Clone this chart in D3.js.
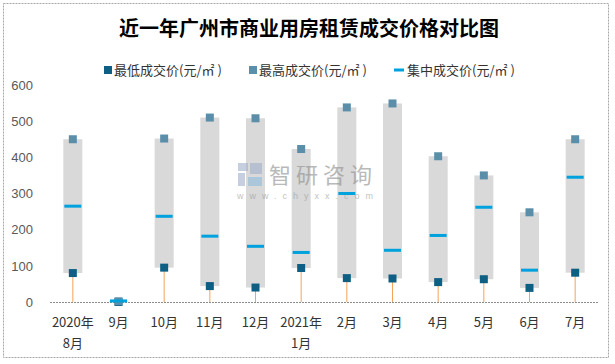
<!DOCTYPE html>
<html><head><meta charset="utf-8">
<script src="https://cdn.jsdelivr.net/npm/d3@7/dist/d3.min.js"></script>
<style>
html,body{margin:0;padding:0;background:#fff;}
svg{display:block;}
text{font-family:"Noto Sans CJK SC","Noto Sans",sans-serif;}
</style></head>
<body><svg id="c" width="615" height="364"></svg>
<script>
const categories = ["2020年8月","9月","10月","11月","12月","2021年1月","2月","3月","4月","5月","6月","7月"];
const tickLabels = [["2020年","8月"],["9月"],["10月"],["11月"],["12月"],["2021年","1月"],["2月"],["3月"],["4月"],["5月"],["6月"],["7月"]];
const minValues = [80, 0, 95, 44, 40, 94, 66, 65, 55, 63, 39, 81];
const maxValues = [450, 2, 452, 510, 508, 423, 538, 549, 403, 350, 248, 450];
const midValues = [265, 3, 237, 182, 154, 137, 300, 143, 184, 262, 88, 345];
const yTicks = [0, 100, 200, 300, 400, 500, 600];
const seriesNames = ["最低成交价(元/㎡ )", "最高成交价(元/㎡ )", "集中成交价(元/㎡ )"];

const svg = d3.select("#c");

// frame
svg.append("rect").attr("x",3.5).attr("y",3.5).attr("width",605).attr("height",354)
  .attr("fill","#fff").attr("stroke","#a6a6a6").attr("stroke-dasharray","2,1");

// title
svg.append("text").attr("x",309).attr("y",36).attr("text-anchor","middle")
  .attr("font-size",20).attr("font-weight","bold").attr("fill","#000")
  .text("近一年广州市商业用房租赁成交价格对比图");

const x = d3.scaleBand().domain(categories).range([50, 598]).padding(0);
const y = d3.scaleLinear().domain([0, 600]).range([302, 85]);
const cx = c => x(c) + x.bandwidth()/2;

// y axis labels
const yAxis = svg.append("g").attr("transform","translate(50,0)")
  .call(d3.axisLeft(y).tickValues(yTicks).tickSize(0).tickPadding(17));
yAxis.select(".domain").remove();
yAxis.selectAll("text").attr("font-size",13).attr("fill","#595959")
  .style("font-family","'Liberation Sans',sans-serif");

// orange drop lines from 0 to min
svg.append("g").selectAll("line").data(categories).join("line")
  .attr("x1",d=>cx(d)).attr("x2",d=>cx(d))
  .attr("y1",y(0)).attr("y2",(d,i)=>y(minValues[i]))
  .attr("stroke","#f4a35a").attr("stroke-width",1);

// gray range boxes
const bw = 19;
svg.append("g").selectAll("rect").data(categories).join("rect")
  .attr("x",d=>cx(d)-bw/2).attr("width",bw)
  .attr("y",(d,i)=>y(maxValues[i])).attr("height",(d,i)=>y(minValues[i])-y(maxValues[i]))
  .attr("fill","#d9d9d9");

// baseline
svg.append("line").attr("x1",50).attr("x2",598).attr("y1",y(0)+0.5).attr("y2",y(0)+0.5)
  .attr("stroke","#8c8c8c").attr("stroke-dasharray","2,1");

// watermark (on top of boxes)
const wm = svg.append("g").attr("opacity",0.6);
wm.append("rect").attr("x",238).attr("y",163).attr("width",10).attr("height",8).attr("fill","#9fb0cc");
wm.append("rect").attr("x",238).attr("y",173).attr("width",7).attr("height",13).attr("fill","#9fb0cc");
wm.append("rect").attr("x",250).attr("y",163).attr("width",12).attr("height",11).attr("fill","#9fb0cc");
wm.append("rect").attr("x",248).attr("y",177).attr("width",14).attr("height",9).attr("fill","#8fbbdc");
wm.append("text").attr("x",269).attr("y",183).attr("font-size",22).attr("fill","#8c8c8c")
  .attr("letter-spacing",5).text("智研咨询");
wm.append("text").attr("x",237).attr("y",198.5).attr("font-size",9).attr("fill","#999")
  .style("font-family","'Liberation Sans',sans-serif")
  .attr("letter-spacing",6).text("www.chyxx.com");

// x axis labels
const xAxis = svg.append("g").attr("transform",`translate(0,${y(0)})`)
  .call(d3.axisBottom(x).tickSize(0).tickPadding(14).tickFormat(()=>""));
xAxis.select(".domain").remove();
xAxis.selectAll(".tick text").each(function(d,i){
  const t = d3.select(this);
  t.attr("font-size",13).attr("fill","#333").attr("dy",null).attr("y",25);
  tickLabels[i].forEach((s,k)=>{
    t.append("tspan").attr("x",0).attr("y",25 + k*21).text(s);
  });
});

// min markers
const ms = 8;
svg.append("g").selectAll("rect").data(categories).join("rect")
  .attr("x",d=>cx(d)-ms/2).attr("y",(d,i)=>y(minValues[i])-ms/2)
  .attr("width",ms).attr("height",ms).attr("fill","#0e5f84");
// max markers
svg.append("g").selectAll("rect").data(categories).join("rect")
  .attr("x",d=>cx(d)-ms/2).attr("y",(d,i)=>y(maxValues[i])-ms/2)
  .attr("width",ms).attr("height",ms).attr("fill","#5a8ea9");
// mid dashes
svg.append("g").selectAll("rect").data(categories).join("rect")
  .attr("x",d=>cx(d)-8.5).attr("y",(d,i)=>y(midValues[i])-1.5)
  .attr("width",17).attr("height",3).attr("fill","#00a2de");

// legend
const leg = svg.append("g");
const legX = [104, 249, 394];
leg.append("rect").attr("x",legX[0]).attr("y",66).attr("width",8).attr("height",8).attr("fill","#0e5f84");
leg.append("rect").attr("x",legX[1]).attr("y",66).attr("width",8).attr("height",8).attr("fill","#5a8ea9");
leg.append("rect").attr("x",legX[2]).attr("y",68.5).attr("width",10).attr("height",3).attr("fill","#00a2de");
seriesNames.forEach((s,i)=>{
  leg.append("text").attr("x",legX[i] + (i==2?13:10)).attr("y",74.5).attr("font-size",13)
    .attr("fill","#333").text(s);
});
</script></body></html>
